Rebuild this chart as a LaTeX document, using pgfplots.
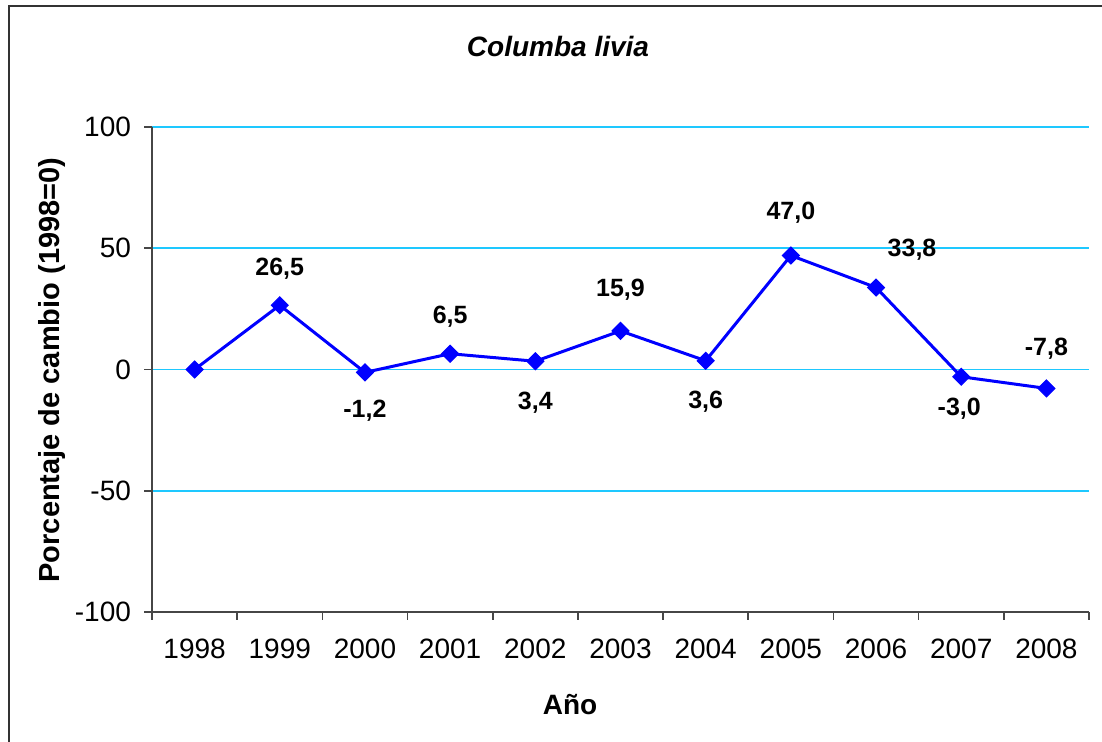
\documentclass[border=0pt]{standalone}
\usepackage{pgfplots}
\pgfplotsset{compat=1.18}
\usepackage{pgfplotstable}
\usepackage{fontspec}
\setmainfont{Liberation Sans}
\definecolor{gridcyan}{RGB}{30,200,255}
\definecolor{lineblue}{RGB}{0,0,255}
\definecolor{axgray}{RGB}{70,70,70}
\pgfplotstableread{
x y lab dx dy
0 0 {} 0 0
1 26.5 {26,5} 0 18.5
2 -1.2 {-1,2} 0 -19
3 6.5 {6,5} 0 18.5
4 3.4 {3,4} 0 -20.5
5 15.9 {15,9} 0 20.5
6 3.6 {3,6} 0 -20.5
7 47.0 {47,0} 0 21.5
8 33.8 {33,8} 18 19
9 -3.0 {-3,0} -1 -16
10 -7.8 {-7,8} 0 20
}\datatable
\begin{document}
\begin{tikzpicture}
\useasboundingbox (0,0) rectangle (551pt,371pt);
\draw[line width=1pt, black!80] (4.25pt,0) -- (4.25pt,367.75pt) -- (551pt,367.75pt);
\begin{axis}[
  at={(76pt,65pt)}, anchor=south west,
  scale only axis, width=468.5pt, height=242.5pt,
  xmin=-0.5, xmax=10.5, ymin=-100, ymax=100,
  axis x line*=bottom, axis y line*=left,
  axis line style={-, axgray, line width=0.9pt},
  xtick={0,...,10},
  xticklabels={1998,1999,2000,2001,2002,2003,2004,2005,2006,2007,2008},
  minor xtick={-0.5,0.5,...,10.5},
  ytick={-100,-50,0,50,100},
  yticklabels={-100,-50,0,50,100},
  tick align=outside,
  major tick length=4pt, minor tick length=4pt,
  x tick style={draw=none},
  minor x tick style={draw=axgray, line width=0.8pt},
  y tick style={axgray, line width=0.8pt},
  ymajorgrids, major grid style={gridcyan, line width=0.9pt},
  tick label style={font=\fontsize{14}{16}\selectfont, text=black},
  xticklabel style={yshift=-6pt},
  yticklabel style={xshift=-3pt},
  clip=false,
  point meta=explicit symbolic,
  nodes near coords={\pgfplotspointmeta},
  visualization depends on={\thisrow{dx} \as \dx},
  visualization depends on={\thisrow{dy} \as \dy},
  nodes near coords style={anchor=center, xshift=\dx pt, yshift=\dy pt,
    font=\fontsize{12.5}{14}\selectfont\bfseries, text=black},
]
\addplot[lineblue, line width=1.5pt, mark=square*, mark size=3pt,
  mark options={rotate=45, fill=lineblue, draw=lineblue, line width=0.5pt}]
  table[x=x, y=y, meta=lab] {\datatable};
\end{axis}
\node at (279pt,347.5pt) {\fontsize{14}{16}\selectfont\bfseries\itshape Columba livia};
\node[rotate=90] at (26pt,186pt) {\fontsize{14.5}{16}\selectfont\bfseries Porcentaje de cambio (1998=0)};
\node at (285pt,18.5pt) {\fontsize{14}{16}\selectfont\bfseries Año};
\end{tikzpicture}
\end{document}
